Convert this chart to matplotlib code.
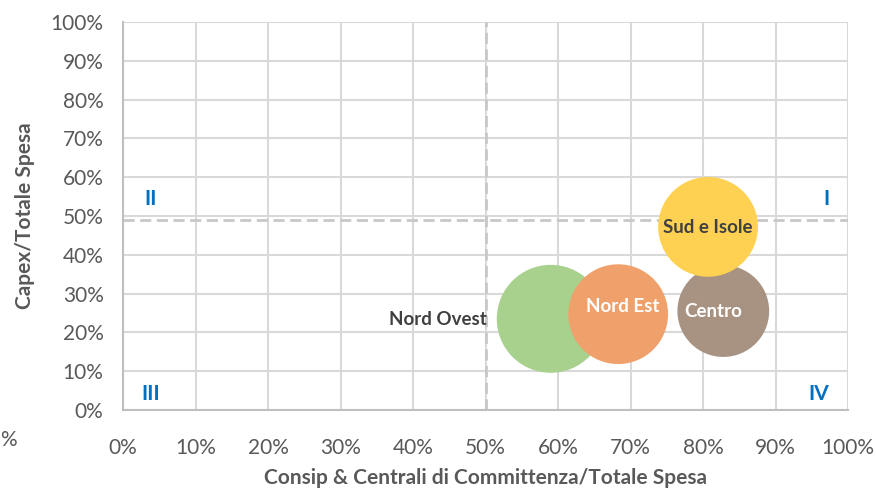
import matplotlib.pyplot as plt
from matplotlib.ticker import PercentFormatter

# dati
regioni = ['Nord Ovest', 'Nord Est', 'Centro', 'Sud e Isole']
consip = [0.59, 0.683, 0.828, 0.807]       # asse x
capex = [0.235, 0.247, 0.255, 0.472]       # asse y
spesa = [28.1, 24.0, 20.3, 24.0]           # dimensione bolle
colori = ['#A9D18E', '#F0A16B', '#A89383', '#FFD152']
col_testo = ['#404040', 'white', 'white', '#404040']

soglia_x = 0.50
soglia_y = 0.49
quadranti = ['I', 'II', 'III', 'IV']

plt.rcParams['font.family'] = ['Lato', 'DejaVu Sans']

fig = plt.figure(figsize=(8.76, 4.91), dpi=100)
ax = fig.add_axes([123 / 876, 81 / 491, 725 / 876, 388 / 491])

scala = 215  # punti^2 per unità di spesa
ax.scatter(consip, capex, s=[v * scala for v in spesa], c=colori,
           edgecolors='none', zorder=3)

ax.axvline(soglia_x, color='#C8C8C8', lw=2, ls=(0, (4, 2)), zorder=2)
ax.axhline(soglia_y, color='#C8C8C8', lw=2, ls=(0, (4, 2)), zorder=2)

# etichette bolle
ax.text(consip[0] - 0.088, capex[0] - 0.003, regioni[0], ha='right', va='center',
        fontsize=13.5, fontweight='bold', color=col_testo[0], zorder=4)
for i in range(1, 4):
    dx = [0, 0.007, -0.014, 0][i]
    dy = [0, 0.02, 0.0, -0.002][i]
    ax.text(consip[i] + dx, capex[i] + dy, regioni[i], ha='center', va='center',
            fontsize=13.5, fontweight='bold', color=col_testo[i], zorder=4)

# quadranti
qpos = [(0.97, 0.545), (0.038, 0.545), (0.038, 0.04), (0.96, 0.04)]
for q, (qx, qy) in zip(quadranti, qpos):
    ax.text(qx, qy, q, ha='center', va='center', fontsize=15,
            fontweight='bold', color='#0070C0', zorder=4)

ax.set_xlim(0, 1)
ax.set_ylim(0, 1)
ax.set_xticks([i / 10 for i in range(11)])
ax.set_yticks([i / 10 for i in range(11)])
ax.xaxis.set_major_formatter(PercentFormatter(1.0, decimals=0))
ax.yaxis.set_major_formatter(PercentFormatter(1.0, decimals=0))
ax.tick_params(length=0, labelsize=15, labelcolor='#595959')
ax.tick_params(axis='x', pad=20)
ax.tick_params(axis='y', pad=14)
ax.grid(True, color='#D9D9D9', lw=1.5, zorder=0)
ax.set_axisbelow(True)
for lato in ['top', 'right']:
    ax.spines[lato].set_visible(False)
for lato in ['left', 'bottom']:
    ax.spines[lato].set_color('#BFBFBF')
    ax.spines[lato].set_linewidth(1.5)

ax.set_xlabel('Consip & Centrali di Committenza/Totale Spesa', fontsize=15,
              fontweight='bold', color='#595959', va='center')
ax.set_ylabel('Capex/Totale Spesa', fontsize=15, fontweight='bold',
              color='#595959', va='center')
ax.xaxis.set_label_coords(0.5, (410 - 478) / 388)
ax.yaxis.set_label_coords((25 - 123) / 725, 0.5)

fig.text(0.5 / 876, 1 - 440 / 491, '%', ha='left', va='center',
         fontsize=15, color='#595959')

fig.savefig('out.png', dpi=100)
